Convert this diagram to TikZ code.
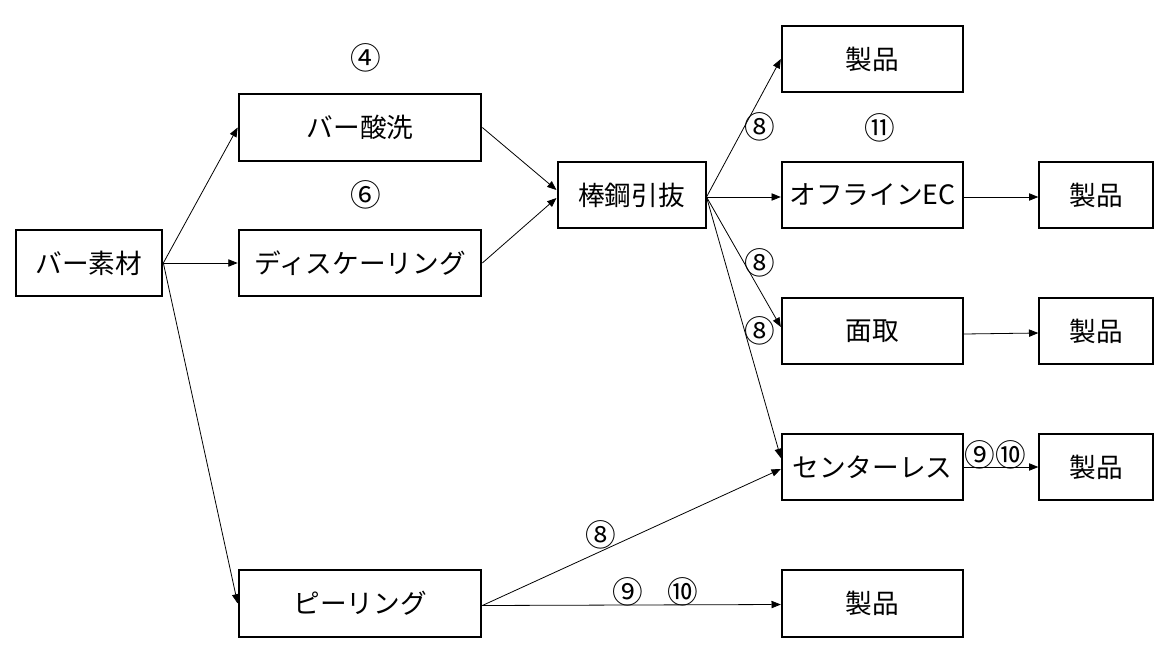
\documentclass[tikz,border=0pt]{standalone}
\usepackage{fontspec}
\setmainfont{Noto Sans CJK JP}
\usepackage{tikz}
\usetikzlibrary{arrows.meta}
\tikzset{
  proc/.style={draw, line width=1.5pt, minimum height=50pt, inner sep=0pt,
    font=\fontsize{20}{24}\selectfont},
  flow/.style={-{Triangle[length=7pt,width=5.5pt]}, line width=0.6pt},
  num/.style={inner sep=0pt, font=\fontsize{23}{26}\selectfont},
}

\begin{document}
\begin{tikzpicture}[x=0.75pt,y=-0.75pt]
\useasboundingbox (0,0) rectangle (1164,650);
% boxes
\node[proc, minimum width=110pt] (bar) at (89,263) {バー素材};
\node[proc, minimum width=182pt] (pickle) at (360,127.5) {バー酸洗};
\node[proc, minimum width=182pt] (descale) at (360,263) {ディスケーリング};
\node[proc, minimum width=182pt] (peel) at (360,603.5) {ピーリング};
\node[proc, minimum width=111pt] (draw) at (631.5,195) {棒鋼引抜};
\node[proc, minimum width=136pt] (prodA) at (872.5,59) {製品};
\node[proc, minimum width=136pt] (ec) at (872.5,195) {オフラインEC};
\node[proc, minimum width=136pt] (chamfer) at (872.5,331) {面取};
\node[proc, minimum width=136pt] (cless) at (872.5,467) {センターレス};
\node[proc, minimum width=136pt] (prodE) at (872.5,603.5) {製品};
\node[proc, minimum width=85pt] (prodB) at (1096,195) {製品};
\node[proc, minimum width=85pt] (prodC) at (1096,331) {製品};
\node[proc, minimum width=85pt] (prodD) at (1096,467) {製品};
% step numbers
\node[num] (n4) at (366,58) {④};
\node[num] (n6) at (366,195) {⑥};
\node[num] (n8a) at (760,127) {⑧};
\node[num] (n11) at (880,128) {⑪};
\node[num] (n8b) at (760,263) {⑧};
\node[num] (n8c) at (760,331) {⑧};
\node[num] (n910) at (995,455) {⑨⑩};
\node[num] (n8d) at (601,535) {⑧};
\node[num] (n9) at (628,592) {⑨};
\node[num] (n10) at (683,592) {⑩};
% connectors
\coordinate (barout) at (bar.east);
\draw[flow] (barout) -- (pickle.west);
\draw[flow] (barout) -- (descale.west);
\draw[flow] (barout) -- (peel.west);
\draw[flow] (pickle.east) -- ([yshift=3.75pt]draw.west);
\draw[flow] (descale.east) -- ([yshift=-2.25pt]draw.west);
\coordinate (drawout) at ([yshift=-1.5pt]draw.east);
\draw[flow] (drawout) -- (prodA.west);
\draw[flow] (drawout) -- ([yshift=-1.5pt]ec.west);
\draw[flow] (drawout) -- ([yshift=3pt]chamfer.west);
\draw[flow] (drawout) -- ([yshift=6.75pt]cless.west);
\coordinate (peelout) at ([yshift=-1.5pt]peel.east);
\draw[flow] (peelout) -- ([yshift=-1.5pt]cless.west);
\draw[flow] (peelout) -- ([yshift=-0.75pt]prodE.west);
\draw[flow] ([yshift=-1.5pt]ec.east) -- ([yshift=-1.5pt]prodB.west);
\draw[flow] ([yshift=-2.25pt]chamfer.east) -- ([yshift=-1.5pt]prodC.west);
\draw[flow] (cless.east) -- (prodD.west);
\end{tikzpicture}
\end{document}
